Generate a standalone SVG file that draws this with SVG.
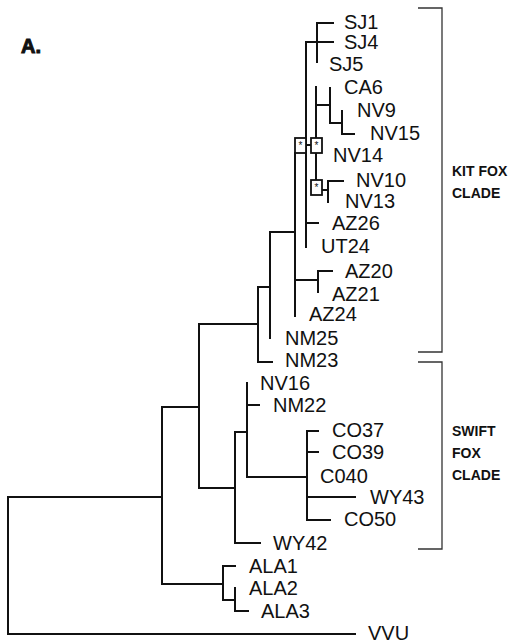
<svg xmlns="http://www.w3.org/2000/svg" width="522" height="643" viewBox="0 0 522 643">
<style>
.t{font-family:"Liberation Sans",Arial,sans-serif;font-size:20px;fill:#111}
.c{font-family:"Liberation Sans",Arial,sans-serif;font-size:14px;font-weight:bold;fill:#111}
.e{fill:none;stroke:#111;stroke-width:2;stroke-linecap:square}
.b{fill:none;stroke:#333;stroke-width:1.3}
.bx{fill:#fff;stroke:#111;stroke-width:1.8}
.s{font-family:"Liberation Sans",Arial,sans-serif;font-size:10px;fill:#111;text-anchor:middle}
</style>
<rect width="522" height="643" fill="#fff"/>
<text x="21" y="53" font-family="Liberation Sans,Arial,sans-serif" font-size="20" font-weight="bold" fill="#111" stroke="#111" stroke-width="1">A.</text>
<g id="connectors" class="e">
<path d="M8,497V634H355M8,497H162"/>
<path d="M162,407V584M162,407H199M162,584H223"/>
<path d="M223,566V600M223,566H235M223,600H235M235,588V611H248"/>
<path d="M199,324V488M199,324H258M199,488H235"/>
<path d="M235,432V543H260M235,432H247"/>
<path d="M247,383V477M247,405H259M247,477H307"/>
<path d="M307,431V520M307,431H318M307,452H318M307,497H355M307,520H330"/>
<path d="M258,287V362H272M258,287H270"/>
<path d="M270,232V338M270,232H295"/>
<path d="M295,153V316M295,280H318"/>
<path d="M318,271V292M318,271H332"/>
<path d="M306,42V247M306,42H333M306,223H318"/>
<path d="M317,23V62M317,23H333"/>
<path d="M306,145H311"/>
<path d="M316,87V180M316,105H330"/>
<path d="M330,88V123H342M342,111V134H354"/>
<path d="M322,190H328M328,181V202M328,181H343"/>
</g>
<g id="box1"><rect class="bx" x="295" y="138" width="11" height="15"/><text class="s" x="300.5" y="149">*</text></g>
<g id="box2"><rect class="bx" x="311" y="138" width="11" height="15"/><text class="s" x="316.5" y="149">*</text></g>
<g id="box3"><rect class="bx" x="311" y="180" width="11" height="15"/><text class="s" x="316.5" y="191">*</text></g>
<g id="labels">
<g id="SJ1"><text class="t" x="344" y="29">SJ1</text></g>
<g id="SJ4"><text class="t" x="344" y="49">SJ4</text></g>
<g id="SJ5"><text class="t" x="329" y="71">SJ5</text></g>
<g id="CA6"><text class="t" x="344" y="94">CA6</text></g>
<g id="NV9"><text class="t" x="357" y="117">NV9</text></g>
<g id="NV15"><text class="t" x="370" y="140">NV15</text></g>
<g id="NV14"><text class="t" x="333" y="162">NV14</text></g>
<g id="NV10"><text class="t" x="356" y="187">NV10</text></g>
<g id="NV13"><text class="t" x="345" y="208">NV13</text></g>
<g id="AZ26"><text class="t" x="332" y="230">AZ26</text></g>
<g id="UT24"><text class="t" x="321" y="253">UT24</text></g>
<g id="AZ20"><text class="t" x="345" y="278">AZ20</text></g>
<g id="AZ21"><text class="t" x="332" y="301">AZ21</text></g>
<g id="AZ24"><text class="t" x="309" y="321">AZ24</text></g>
<g id="NM25"><text class="t" x="285" y="345">NM25</text></g>
<g id="NM23"><text class="t" x="285" y="367">NM23</text></g>
<g id="NV16"><text class="t" x="260" y="390">NV16</text></g>
<g id="NM22"><text class="t" x="273" y="412">NM22</text></g>
<g id="CO37"><text class="t" x="332" y="437">CO37</text></g>
<g id="CO39"><text class="t" x="332" y="459">CO39</text></g>
<g id="C040"><text class="t" x="320" y="483">C040</text></g>
<g id="WY43"><text class="t" x="370" y="504">WY43</text></g>
<g id="CO50"><text class="t" x="344" y="526">CO50</text></g>
<g id="WY42"><text class="t" x="273" y="550">WY42</text></g>
<g id="ALA1"><text class="t" x="249" y="573">ALA1</text></g>
<g id="ALA2"><text class="t" x="249" y="595">ALA2</text></g>
<g id="ALA3"><text class="t" x="261" y="618">ALA3</text></g>
<g id="VVU"><text class="t" x="368" y="640">VVU</text></g>
</g>
<g id="kitfox">
<path class="b" d="M418,8H442V352H418"/>
<text class="c" x="452" y="176">KIT FOX</text>
<text class="c" x="452" y="198">CLADE</text>
</g>
<g id="swiftfox">
<path class="b" d="M418,362H442V549H418"/>
<text class="c" x="452" y="436">SWIFT</text>
<text class="c" x="452" y="458">FOX</text>
<text class="c" x="452" y="480">CLADE</text>
</g>
</svg>
